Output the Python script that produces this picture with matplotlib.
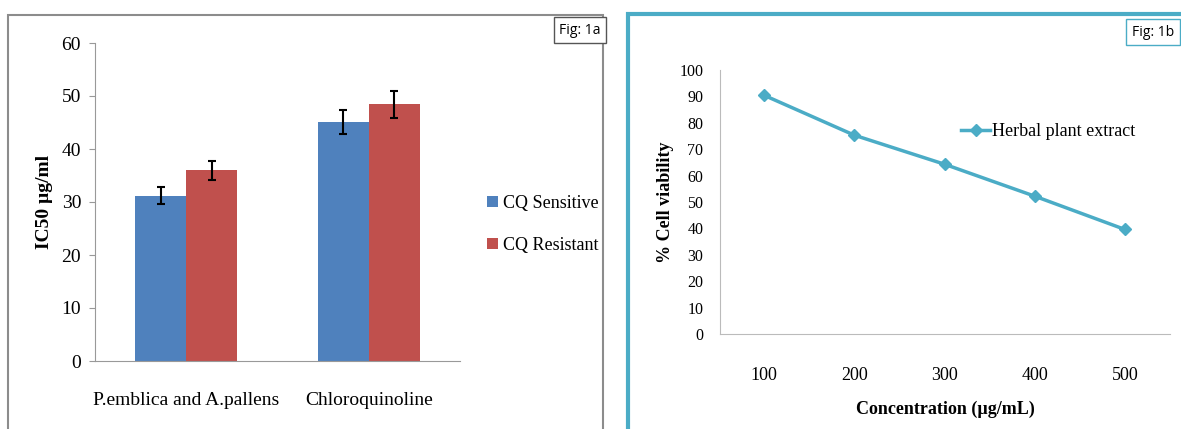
import matplotlib.pyplot as plt
from matplotlib.patches import Rectangle
import numpy as np

# Fig 1a data
groups = ["P.emblica and A.pallens", "Chloroquinoline"]
sensitive = [31.2, 45.1]
sensitive_err = [1.6, 2.3]
resistant = [36.0, 48.4]
resistant_err = [1.8, 2.5]

# Fig 1b data
conc = [100, 200, 300, 400, 500]
viability = [90.4, 75.3, 64.3, 52.2, 39.6]

BLUE = "#4F81BD"
RED = "#C0504D"
TEAL = "#4BACC6"
SERIF = "Liberation Serif"

fig = plt.figure(figsize=(11.81, 4.29), dpi=100)
W, H = 1181, 429


def fx(px):
    return px / W


def fy(py):
    return 1 - py / H


# panel frames
fig.patches.append(Rectangle((fx(8), fy(440)), fx(603) - fx(8), fy(15) - fy(440),
                             transform=fig.transFigure, fill=False, ec="#8c8c8c", lw=1.5))
fig.patches.append(Rectangle((fx(628), fy(440)), fx(1190) - fx(628), fy(14) - fy(440),
                             transform=fig.transFigure, fill=False, ec=TEAL, lw=3))

# ---- Fig 1a: bar chart ----
ax1 = fig.add_axes([fx(95), fy(361), fx(460) - fx(95), fy(43) - fy(361)])
x = np.arange(len(groups))
w = 0.28
err_kw = dict(ecolor="black", elinewidth=1.5, capsize=3, capthick=1.5)
ax1.bar(x - w / 2, sensitive, w, yerr=sensitive_err, color=BLUE, label="CQ Sensitive", error_kw=err_kw)
ax1.bar(x + w / 2, resistant, w, yerr=resistant_err, color=RED, label="CQ Resistant", error_kw=err_kw)
ax1.set_xlim(-0.5, 1.5)
ax1.set_ylim(0, 60)
ax1.set_yticks(range(0, 61, 10))
ax1.set_xticks(x)
ax1.set_xticklabels(groups, fontfamily=SERIF, fontsize=14)
ax1.tick_params(axis="x", length=0, pad=22)
ax1.tick_params(axis="y", length=4, color="#999999", labelsize=14, pad=6)
for lab in ax1.get_yticklabels():
    lab.set_fontfamily(SERIF)
for s in ["top", "right"]:
    ax1.spines[s].set_visible(False)
for s in ["left", "bottom"]:
    ax1.spines[s].set_color("#999999")
ax1.set_ylabel("IC50 µg/ml", fontfamily=SERIF, fontsize=14, fontweight="bold", labelpad=6)
ax1.legend(loc="center left", bbox_to_anchor=(1.03, 0.43), frameon=False,
           prop={"family": SERIF, "size": 13}, handlelength=0.6, handleheight=0.6,
           handletextpad=0.3, labelspacing=1.4)

fig.text(fx(580), fy(30), "Fig: 1a", ha="center", va="center", fontsize=10, fontfamily="Open Sans",
         bbox=dict(boxstyle="square,pad=0.4", fc="white", ec="#555555", lw=1))

# ---- Fig 1b: line chart ----
ax2 = fig.add_axes([fx(720), fy(334), fx(1170) - fx(720), fy(70) - fy(334)])
ax2.plot(conc, viability, color=TEAL, lw=2.5, marker="D", markersize=6.5, label="Herbal plant extract")
ax2.set_xlim(51, 550)
ax2.set_ylim(0, 100)
ax2.set_yticks(range(0, 101, 10))
ax2.set_xticks(conc)
ax2.tick_params(axis="x", length=0, pad=24, labelsize=13)
ax2.tick_params(axis="y", length=0, pad=12, labelsize=11.5)
for lab in ax2.get_xticklabels() + ax2.get_yticklabels():
    lab.set_fontfamily(SERIF)
for s in ["top", "right"]:
    ax2.spines[s].set_visible(False)
for s in ["left", "bottom"]:
    ax2.spines[s].set_color("#bbbbbb")
ax2.set_xlabel("Concentration (µg/mL)", fontfamily=SERIF, fontsize=13, fontweight="bold", labelpad=12)
ax2.set_ylabel("% Cell viability", fontfamily=SERIF, fontsize=13, fontweight="bold", labelpad=4)
ax2.legend(loc="upper left", bbox_to_anchor=(0.5, 0.86), frameon=False,
           prop={"family": SERIF, "size": 13}, handlelength=1.6, handletextpad=0.1)

fig.text(fx(1153), fy(32), "Fig: 1b", ha="center", va="center", fontsize=10, fontfamily="Open Sans",
         bbox=dict(boxstyle="square,pad=0.4", fc="white", ec=TEAL, lw=1))

fig.savefig("out.png", dpi=100, facecolor="white")
